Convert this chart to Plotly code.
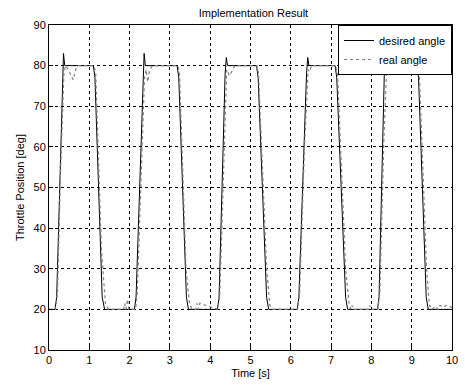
import plotly.graph_objects as go

# Desired angle (solid)
t_desired = [0, 0.15, 0.19, 0.33, 0.36, 0.39, 1.10, 1.14, 1.32, 1.38,
             2.12, 2.16, 2.33, 2.36, 2.39, 3.18, 3.22, 3.41, 3.46,
             4.18, 4.22, 4.37, 4.40, 4.43, 5.15, 5.19, 5.40, 5.45,
             6.16, 6.20, 6.39, 6.42, 6.45, 7.10, 7.14, 7.36, 7.41,
             8.15, 8.19, 8.32, 8.35, 8.38, 9.13, 9.17, 9.36, 9.41, 10.0]
v_desired = [20, 20, 23, 78, 83, 80, 80, 77, 23, 20,
             20, 23, 78, 83, 80, 80, 77, 23, 20,
             20, 23, 78, 82, 80, 80, 77, 23, 20,
             20, 23, 78, 82, 80, 80, 77, 23, 20,
             20, 23, 78, 81, 80, 80, 77, 23, 20, 20]

# Real angle (dotted)
t_real = [0, 0.16, 0.21, 0.29, 0.37, 0.41, 0.48, 0.55, 0.60, 0.66, 0.72, 1.12, 1.16, 1.30, 1.40, 1.48,
          1.85, 1.88, 1.91, 1.95, 1.98, 2.01, 2.15, 2.19, 2.29, 2.37, 2.41, 2.45, 2.49, 2.56,
          3.20, 3.24, 3.40, 3.49, 3.56, 3.64, 3.67, 3.71, 3.74,
          4.19, 4.24, 4.34, 4.41, 4.48, 4.54, 4.61, 5.16, 5.20, 5.40, 5.48, 5.56,
          6.17, 6.22, 6.34, 6.43, 6.47, 6.51, 6.57, 7.11, 7.16, 7.36, 7.45, 7.50, 7.52, 7.55,
          7.94, 7.96, 7.99, 8.16, 8.21, 8.31, 8.38, 8.70, 8.75, 8.80, 8.85, 8.90, 8.95, 9.14, 9.19, 9.37, 9.44,
          9.50, 9.60, 9.65, 9.70, 9.80, 9.85, 10.0]
v_real = [20, 20, 24, 55, 78, 80, 79, 77.5, 76.5, 79, 80, 80, 78, 35, 21.5, 20,
          20, 21.5, 20, 22.5, 20, 20, 20, 24, 55, 77, 79, 76, 78.5, 80,
          80, 78, 30, 21, 20, 20, 21.5, 20, 21.5,
          20, 24, 60, 79, 77.5, 78.5, 80, 80, 78, 30, 21, 20,
          20, 24, 60, 79, 78.5, 80, 80, 80, 78, 30, 21, 20, 21, 20,
          20, 21, 20, 20, 24, 62, 79.5, 79.5, 79, 80, 79, 80, 79.5, 80, 78, 30, 21,
          20, 20.8, 20, 21, 20.5, 21, 20.5]

x_ticks = list(range(0, 11))
y_ticks = list(range(10, 91, 10))

fig = go.Figure()
fig.add_trace(go.Scatter(x=t_desired, y=v_desired, mode="lines", name="desired angle",
                         line=dict(color="black", width=1)))
fig.add_trace(go.Scatter(x=t_real, y=v_real, mode="lines", name="real angle",
                         line=dict(color="#808080", width=1.2, dash="dot")))

font = dict(family="Liberation Sans, Arial, sans-serif", size=11, color="black")
axis_common = dict(showline=True, linecolor="black", linewidth=1, mirror=True,
                   showgrid=True, gridcolor="black", gridwidth=1, griddash="3px,3px",
                   ticks="inside", ticklen=4, tickcolor="black", zeroline=False,
                   tickfont=font)
fig.update_xaxes(range=[0, 10], tickvals=x_ticks, title=dict(text="Time [s]", font=font, standoff=4),
                 **axis_common)
fig.update_yaxes(range=[10, 90], tickvals=y_ticks, title=dict(text="Throttle Position [deg]", font=font, standoff=6),
                 **axis_common)
fig.update_layout(
    width=465, height=385,
    margin=dict(l=49, r=7, t=25, b=35),
    paper_bgcolor="white", plot_bgcolor="white",
    title=dict(text="Implementation Result", x=0.545, xanchor="center", y=0.975, yanchor="top", font=font),
    font=font,
    showlegend=True,
    legend=dict(x=1, y=1, xanchor="right", yanchor="top", bgcolor="white",
                bordercolor="black", borderwidth=1, font=font,
                tracegroupgap=0, itemwidth=30),
)
fig.write_html("out.html")
